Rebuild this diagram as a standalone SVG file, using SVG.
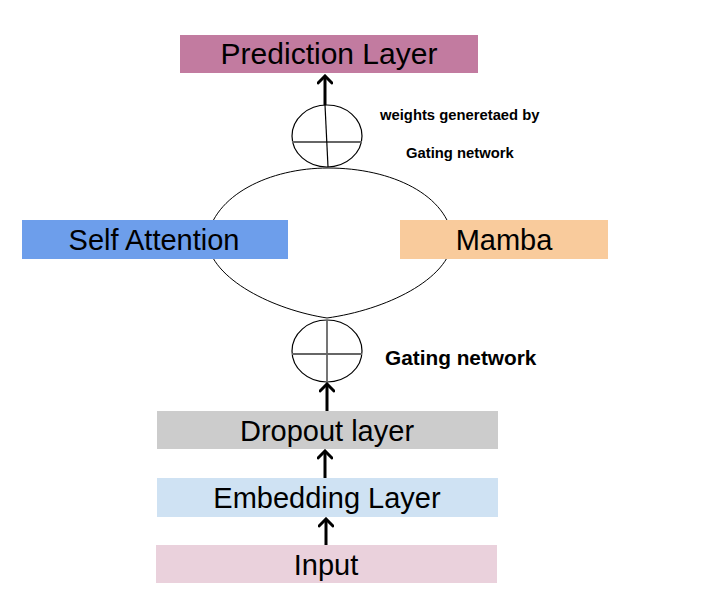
<svg xmlns="http://www.w3.org/2000/svg" width="721" height="598" viewBox="0 0 721 598">
<style>
.lbl{font-family:"Liberation Sans",Arial,sans-serif;font-size:29px;fill:#000;text-anchor:middle}
.note{font-family:"Liberation Sans",Arial,sans-serif;font-weight:bold;fill:#000}
.arrow{stroke:#000;stroke-width:3;fill:none;marker-end:url(#ah)}
.circ{fill:none;stroke:#000;stroke-width:1.2}
.cross{stroke:#666;stroke-width:1.8}
</style>
<defs>
<marker id="ah" viewBox="0 0 12 16" refX="10" refY="8" markerWidth="12" markerHeight="16" markerUnits="userSpaceOnUse" orient="auto">
<polyline points="3,1 10,8 3,15" fill="none" stroke="#000" stroke-width="3" stroke-linecap="round" stroke-linejoin="miter"/>
</marker>
</defs>
<rect width="721" height="598" fill="#fff"/>
<g id="connectors">
<path id="lens" d="M 207 240 C 213 195 270 168 328 168 C 392 168 448 195 453 240 C 449 280 385 310 327 318 C 275 310 211 280 207 240 Z" fill="none" stroke="#000" stroke-width="1"/>
<line class="arrow" x1="325" y1="105" x2="325" y2="76"/>
<line class="arrow" x1="327" y1="411" x2="327" y2="384"/>
<line class="arrow" x1="325" y1="478" x2="325" y2="451"/>
<line class="arrow" x1="326" y1="545" x2="326" y2="519"/>
</g>
<g id="prediction">
<rect x="180" y="35" width="298" height="38" fill="#c27ba0"/>
<text class="lbl" x="329" y="64" style="font-size:30px">Prediction Layer</text>
</g>
<g id="sum-top">
<ellipse class="circ" cx="327" cy="136" rx="35" ry="31"/>
<line class="cross" x1="292" y1="142" x2="362" y2="142"/>
<line x1="325" y1="105" x2="328" y2="167" stroke="#000" stroke-width="1.2"/>
</g>
<g id="note-top">
<text class="note" x="380" y="120" style="font-size:14.8px">weights generetaed by</text>
<text class="note" x="406" y="158" style="font-size:14.8px">Gating network</text>
</g>
<g id="self-attention">
<rect x="22" y="220" width="266" height="39" fill="#6d9eeb"/>
<text class="lbl" x="154" y="250">Self Attention</text>
</g>
<g id="mamba">
<rect x="400" y="220" width="208" height="39" fill="#f9cb9c"/>
<text class="lbl" x="504" y="250">Mamba</text>
</g>
<g id="sum-bottom">
<ellipse class="circ" cx="327" cy="351" rx="35" ry="31"/>
<line class="cross" x1="292" y1="354" x2="362" y2="354"/>
<line class="cross" x1="327" y1="320" x2="327" y2="382"/>
</g>
<g id="note-bottom">
<text class="note" x="385" y="365" style="font-size:20.8px">Gating network</text>
</g>
<g id="dropout">
<rect x="157" y="411" width="341" height="38" fill="#cccccc"/>
<text class="lbl" x="327" y="441">Dropout layer</text>
</g>
<g id="embedding">
<rect x="157" y="478" width="341" height="39" fill="#cfe2f3"/>
<text class="lbl" x="327" y="508">Embedding Layer</text>
</g>
<g id="input">
<rect x="156" y="545" width="341" height="38" fill="#ead1dc"/>
<text class="lbl" x="326" y="575">Input</text>
</g>
</svg>
